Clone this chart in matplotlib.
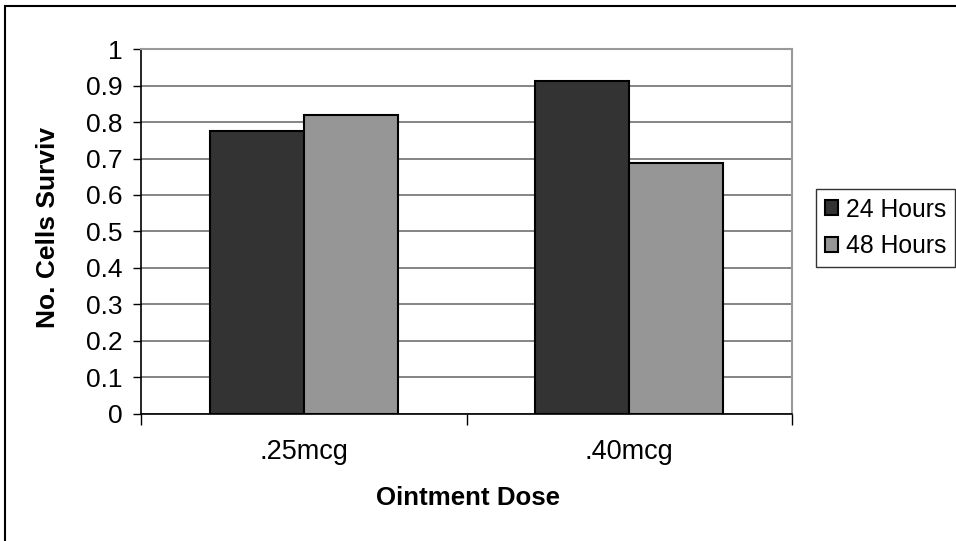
import matplotlib.pyplot as plt
import numpy as np
from matplotlib.patches import Rectangle

plt.rcParams['font.family'] = ['Liberation Sans', 'DejaVu Sans']

doses = ['.25mcg', '.40mcg']
hours_24 = [0.776, 0.913]
hours_48 = [0.819, 0.687]
series_names = ['24 Hours', '48 Hours']

fig = plt.figure(figsize=(9.56, 5.41), dpi=100)
ax = fig.add_axes([0.1475, 0.2348, 0.681, 0.6746])

x = np.arange(len(doses))
w = 0.2885
ax.bar(x - w/2, hours_24, w, color='#333333', edgecolor='black', linewidth=1.5, label=series_names[0], zorder=3)
ax.bar(x + w/2, hours_48, w, color='#969696', edgecolor='black', linewidth=1.5, label=series_names[1], zorder=3)

ax.set_xlim(-0.5, 1.5)
ax.set_ylim(0, 1)
ax.set_yticks(np.arange(0, 1.01, 0.1))
ax.set_yticklabels(['0', '0.1', '0.2', '0.3', '0.4', '0.5', '0.6', '0.7', '0.8', '0.9', '1'])
ax.yaxis.grid(True, color='#707070', linewidth=1.2, zorder=0)
ax.set_axisbelow(True)

# category labels in the middle, tick marks on the category borders
ax.set_xticks(x)
ax.set_xticklabels(doses)
ax.set_xticks([-0.5, 0.5, 1.5], minor=True)
ax.tick_params(axis='x', which='major', length=0, pad=18, labelsize=19.5)
ax.tick_params(axis='x', which='minor', length=8, width=1, color='black', direction='out')
ax.tick_params(axis='y', length=6, width=1, pad=7, labelsize=19)

ax.spines['left'].set_color('black')
ax.spines['bottom'].set_color('black')
ax.spines['left'].set_linewidth(1.2)
ax.spines['bottom'].set_linewidth(1.2)
ax.spines['top'].set_color('#999999')
ax.spines['right'].set_color('#999999')
ax.spines['top'].set_linewidth(1.5)
ax.spines['right'].set_linewidth(1.5)

fig.text(0.050, 0.5786, 'No. Cells Surviv', rotation=90, ha='center', va='center',
         fontsize=19, fontweight='bold')
fig.text(0.490, 0.0795, 'Ointment Dose', ha='center', va='center',
         fontsize=18.6, fontweight='bold')

leg = fig.legend(loc='upper left', bbox_to_anchor=(0.8536, 0.6506), fontsize=17.8,
                 frameon=True, fancybox=False, edgecolor='black', handlelength=0.55,
                 handleheight=0.55, handletextpad=0.3, borderpad=0.35, labelspacing=0.5,
                 borderaxespad=0)
leg.get_frame().set_linewidth(1.0)

# chart border, runs off the right and bottom edges
fig.patches.append(Rectangle((5/956, -0.1), 1.2, 1.1 - 6/541, transform=fig.transFigure,
                             fill=False, edgecolor='black', linewidth=1.5))

fig.savefig('out.png', dpi=100)
